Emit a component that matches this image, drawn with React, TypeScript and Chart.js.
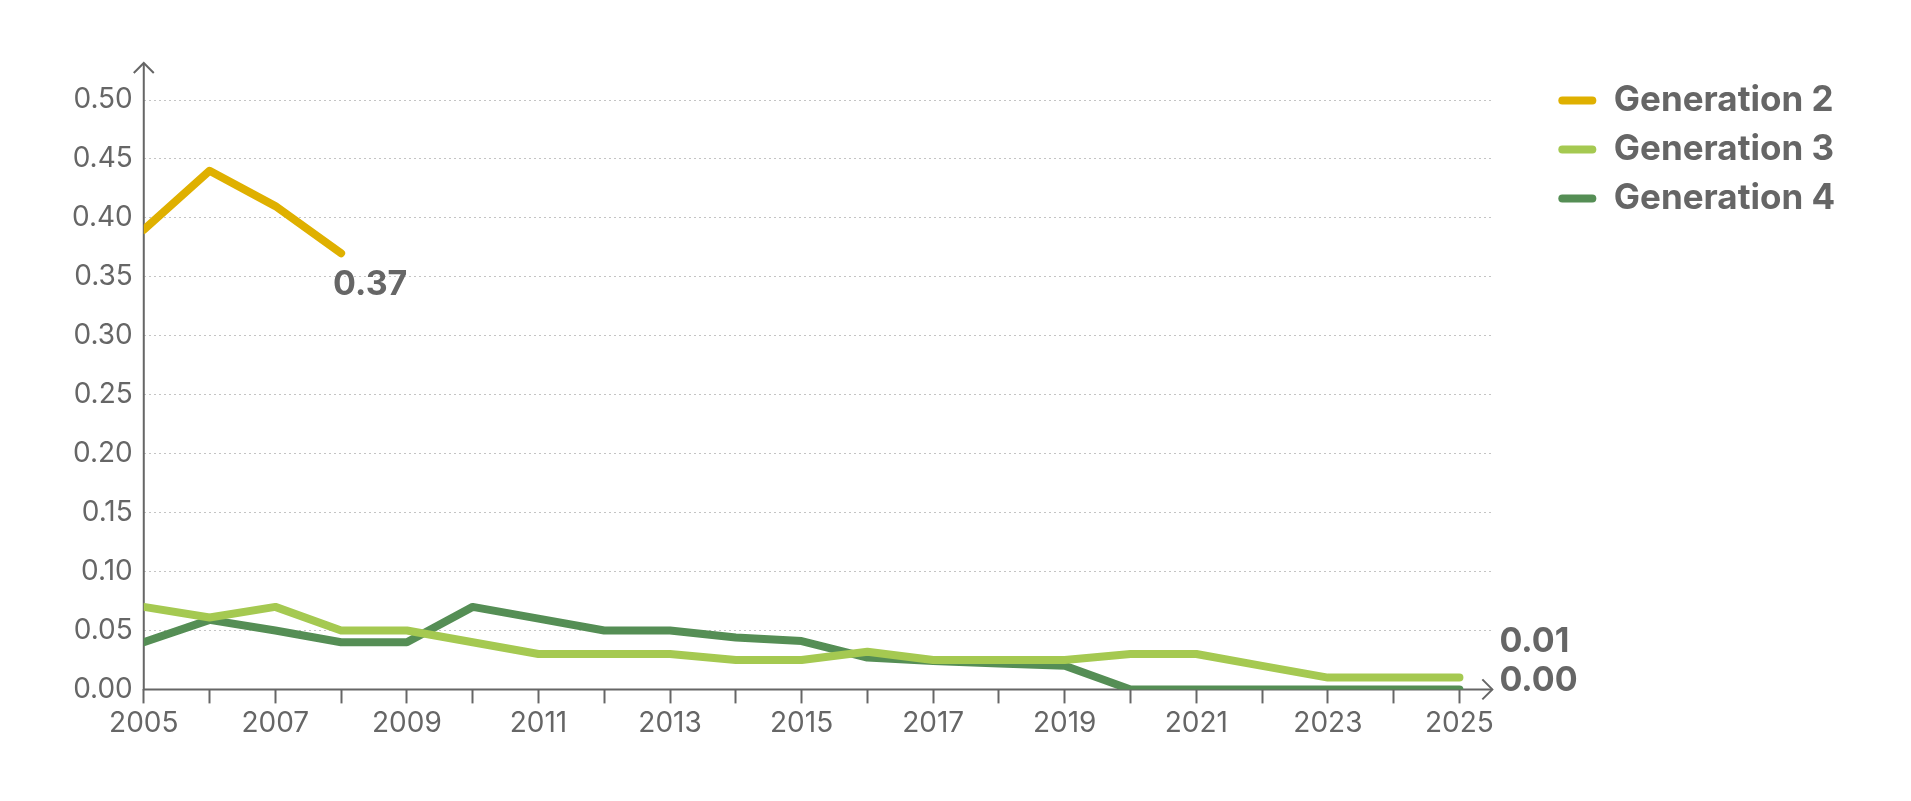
import React, { useEffect, useRef } from 'react';
import { Chart, registerables } from 'chart.js';

Chart.register(...registerables);

const years = [2005, 2006, 2007, 2008, 2009, 2010, 2011, 2012, 2013, 2014, 2015, 2016, 2017, 2018, 2019, 2020, 2021, 2022, 2023, 2024, 2025];
const yTicks = [0, 0.05, 0.1, 0.15, 0.2, 0.25, 0.3, 0.35, 0.4, 0.45, 0.5];
const generation2: (number | null)[] = [0.39, 0.44, 0.41, 0.37, null, null, null, null, null, null, null, null, null, null, null, null, null, null, null, null, null];
const generation3: (number | null)[] = [0.07, 0.061, 0.07, 0.05, 0.05, 0.04, 0.03, 0.03, 0.03, 0.025, 0.025, 0.032, 0.025, 0.025, 0.025, 0.03, 0.03, 0.02, 0.01, 0.01, 0.01];
const generation4: (number | null)[] = [0.04, 0.059, 0.05, 0.04, 0.04, 0.07, 0.06, 0.05, 0.05, 0.044, 0.041, 0.027, 0.024, 0.022, 0.02, 0, 0, 0, 0, 0, 0];
const seriesNames = ['Generation 2', 'Generation 3', 'Generation 4'];
const seriesValues = [generation2, generation3, generation4];
const seriesColors = ['#DFB000', '#A5C951', '#558E55'];
const endLabelOffsets = [
  { dx: -8, dy: 32 },
  { dx: 40, dy: -36 },
  { dx: 40, dy: -9 },
];

const TEXT = '#666666';
const FONT = 'Inter';

const axisArrows = {
  id: 'axisArrows',
  beforeDatasetsDraw(chart: any) {
    const { ctx, chartArea, scales } = chart;
    const x0 = scales.x.getPixelForValue(years[0]);
    const y0 = scales.y.getPixelForValue(0);
    const a = 10;
    ctx.save();
    ctx.strokeStyle = TEXT;
    ctx.lineWidth = 2;
    ctx.beginPath();
    ctx.moveTo(x0, y0 + 1);
    ctx.lineTo(x0, chartArea.top);
    ctx.moveTo(x0, y0);
    ctx.lineTo(chartArea.right, y0);
    ctx.stroke();
    ctx.beginPath();
    ctx.moveTo(x0 - a, chartArea.top + a);
    ctx.lineTo(x0, chartArea.top);
    ctx.lineTo(x0 + a, chartArea.top + a);
    ctx.moveTo(chartArea.right - a, y0 - a);
    ctx.lineTo(chartArea.right, y0);
    ctx.lineTo(chartArea.right - a, y0 + a);
    ctx.stroke();
    ctx.restore();
  },
};

const endLabels = {
  id: 'endLabels',
  afterDatasetsDraw(chart: any) {
    const { ctx } = chart;
    ctx.save();
    ctx.font = `bold 34px ${FONT}`;
    ctx.fillStyle = TEXT;
    ctx.textAlign = 'left';
    ctx.textBaseline = 'middle';
    chart.data.datasets.forEach((ds: any, i: number) => {
      const meta = chart.getDatasetMeta(i);
      const pts = meta.data;
      if (!pts.length) return;
      const last = pts[pts.length - 1];
      const value = ds.data[ds.data.length - 1].y as number;
      const off = endLabelOffsets[i];
      ctx.fillText(value.toFixed(2), last.x + off.dx, last.y + off.dy);
    });
    ctx.restore();
  },
};

export default function App() {
  const canvasRef = useRef<HTMLCanvasElement | null>(null);

  useEffect(() => {
    if (!canvasRef.current) return;
    const datasets = seriesNames.map((name, i) => ({
      label: name,
      data: years
        .map((yr, j) => ({ x: yr, y: seriesValues[i][j] }))
        .filter((p) => p.y !== null),
      borderColor: seriesColors[i],
      backgroundColor: seriesColors[i],
      borderWidth: 8,
      borderCapStyle: 'round' as const,
      borderJoinStyle: 'round' as const,
      pointRadius: 0,
      pointHoverRadius: 0,
      tension: 0,
      fill: false,
    }));

    const chart = new Chart(canvasRef.current, {
      type: 'line',
      data: { datasets },
      plugins: [axisArrows, endLabels],
      options: {
        animation: false,
        responsive: true,
        maintainAspectRatio: false,
        layout: { padding: { left: 53, top: 55, right: 62, bottom: 50 } },
        plugins: {
          tooltip: { enabled: false },
          legend: {
            position: 'right',
            align: 'start',
            title: { display: true, text: '', padding: 0, font: { size: 6, lineHeight: 1 } },
            labels: {
              boxWidth: 38,
              boxHeight: 8,
              useBorderRadius: true,
              borderRadius: 4,
              padding: 14,
              color: TEXT,
              font: { family: FONT, size: 35, weight: 'bold' },
              generateLabels: (c: any) =>
                c.data.datasets.map((ds: any, i: number) => ({
                  text: ds.label,
                  fillStyle: ds.borderColor,
                  strokeStyle: ds.borderColor,
                  lineWidth: 0,
                  borderRadius: 4,
                  fontColor: TEXT,
                  hidden: false,
                  datasetIndex: i,
                })),
            },
          },
        },
        scales: {
          x: {
            type: 'linear',
            min: 2005,
            max: 2025.5,
            afterBuildTicks: (scale: any) => {
              scale.ticks = years.map((v) => ({ value: v }));
            },
            ticks: {
              autoSkip: false,
              maxRotation: 0,
              padding: 3,
              color: TEXT,
              font: { family: FONT, size: 28 },
              callback: (v: any) => (Number(v) % 2 === 1 ? String(v) : ''),
            },
            grid: {
              display: true,
              drawOnChartArea: false,
              drawTicks: true,
              tickLength: 14,
              tickColor: TEXT,
              tickWidth: 2,
            },
            border: { display: false },
          },
          y: {
            type: 'linear',
            min: 0,
            max: 0.5314,
            afterBuildTicks: (scale: any) => {
              scale.ticks = yTicks.map((v) => ({ value: v }));
            },
            ticks: {
              padding: 11,
              color: TEXT,
              font: { family: FONT, size: 28 },
              callback: (v: any) => Number(v).toFixed(2),
            },
            grid: {
              color: '#c4c4c4',
              lineWidth: 1,
              drawTicks: false,
            },
            border: { display: false, dash: [2, 3] },
          },
          gap: {
            type: 'linear',
            position: 'right',
            display: true,
            grid: { display: false },
            border: { display: false },
            ticks: { display: false },
            afterFit: (scale: any) => {
              scale.width = 52;
            },
          },
        },
      } as any,
    });

    return () => chart.destroy();
  }, []);

  return (
    <div style={{ position: 'relative', width: '100%', height: '785px' }}>
      <canvas ref={canvasRef} />
    </div>
  );
}
